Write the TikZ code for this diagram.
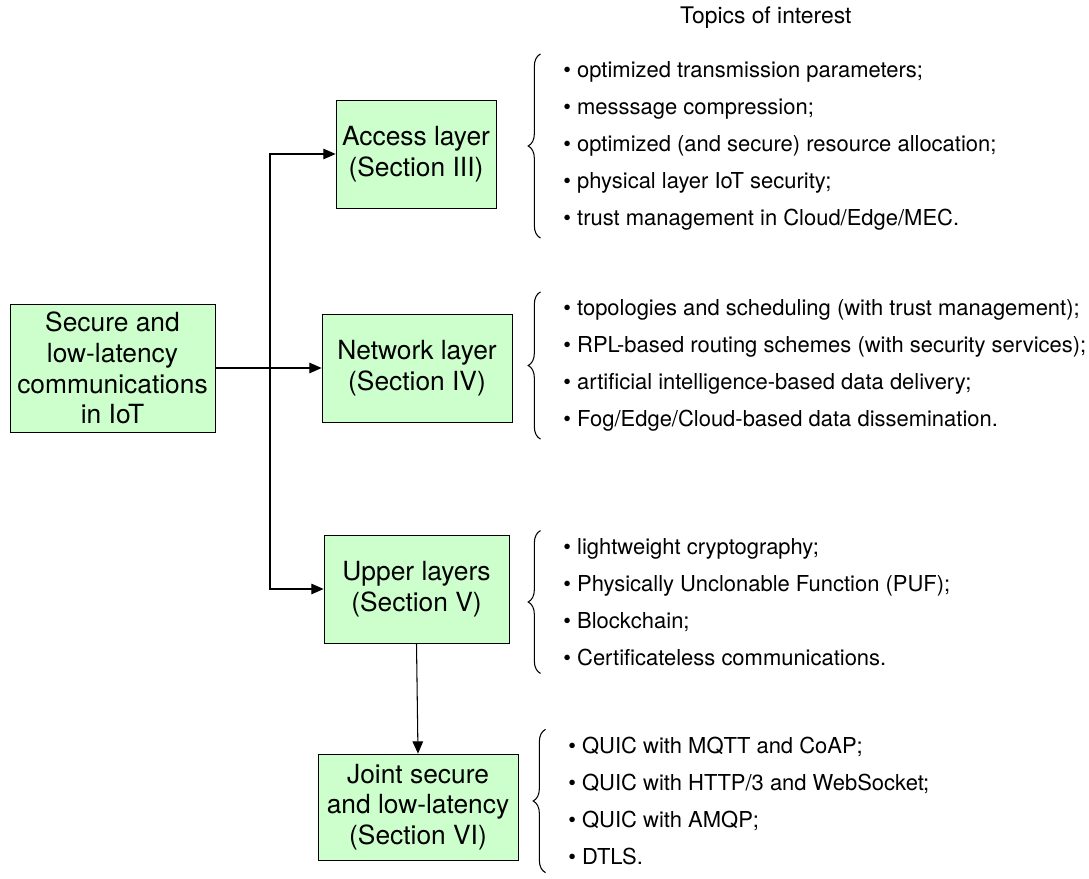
\documentclass[tikz,border=0pt]{standalone}
\usepackage{fontspec}
\setmainfont{TeX Gyre Heros}
\usetikzlibrary{arrows.meta,positioning,calc,decorations.pathreplacing}
\definecolor{boxgreen}{HTML}{CCFFCC}

\begin{document}
\begin{tikzpicture}[
  box/.style={rectangle, draw, fill=boxgreen, align=center, inner sep=1pt, minimum height=2.16cm, font=\fontsize{15}{17.5}\selectfont},
  lst/.style={anchor=west, align=left, inner sep=0pt, font=\fontsize{12.5}{21}\selectfont},
  arr/.style={-{Triangle[length=7pt,width=6pt]}, semithick},
  brc/.style={decorate, decoration={brace, amplitude=7pt}, semithick}
]
  \useasboundingbox (0,0) rectangle (21.78,-17.58);
  % title
  \node[anchor=west, font=\fontsize{13}{15}\selectfont] (title) at (13.48,-0.36) {Topics of interest};
  % boxes
  \node[box, minimum width=4.1cm, minimum height=2.56cm] (iot) at (2.25,-7.36) {Secure and\\low-latency\\communications\\in IoT};
  \node[box, minimum width=3.2cm] (acc) at (8.32,-3.08) {Access layer\\(Section III)};
  \node[box, minimum width=3.8cm] (net) at (8.34,-7.36) {Network layer\\(Section IV)};
  \node[box, minimum width=3.7cm] (upp) at (8.33,-11.78) {Upper layers\\(Section V)};
  \node[box, minimum width=4.0cm, minimum height=2.12cm] (jnt) at (8.36,-16.14) {Joint secure\\and low-latency\\(Section VI)};
  % connectors
  \coordinate (split) at (5.4,-7.36);
  \draw[arr] (iot.east) -- (net.west);
  \draw[arr] (split) |- (acc.west);
  \draw[arr] (split) |- (upp.west);
  \draw[arr] (upp.south) -- (jnt.north);
  % topics
  \node[lst] (lacc) at (11.26,-2.92) {%
    • optimized transmission parameters;\\
    • messsage compression;\\
    • optimized (and secure) resource allocation;\\
    • physical layer IoT security;\\
    • trust management in Cloud/Edge/MEC.};
  \node[lst] (lnet) at (11.26,-7.31) {%
    • topologies and scheduling (with trust management);\\
    • RPL-based routing schemes (with security services);\\
    • artificial intelligence-based data delivery;\\
    • Fog/Edge/Cloud-based data dissemination.};
  \node[lst] (lupp) at (11.26,-12.04) {%
    • lightweight cryptography;\\
    • Physically Unclonable Function (PUF);\\
    • Blockchain;\\
    • Certificateless communications.};
  \node[lst] (ljnt) at (11.36,-16.02) {%
    • QUIC with MQTT and CoAP;\\
    • QUIC with HTTP/3 and WebSocket;\\
    • QUIC with AMQP;\\
    • DTLS.};
  \foreach \l in {lacc,lnet,lupp,ljnt}{
    \draw[brc] ([xshift=-0.45cm,yshift=-0.15cm]\l.south west) -- ([xshift=-0.45cm,yshift=0.15cm]\l.north west);
  }
\end{tikzpicture}
\end{document}
